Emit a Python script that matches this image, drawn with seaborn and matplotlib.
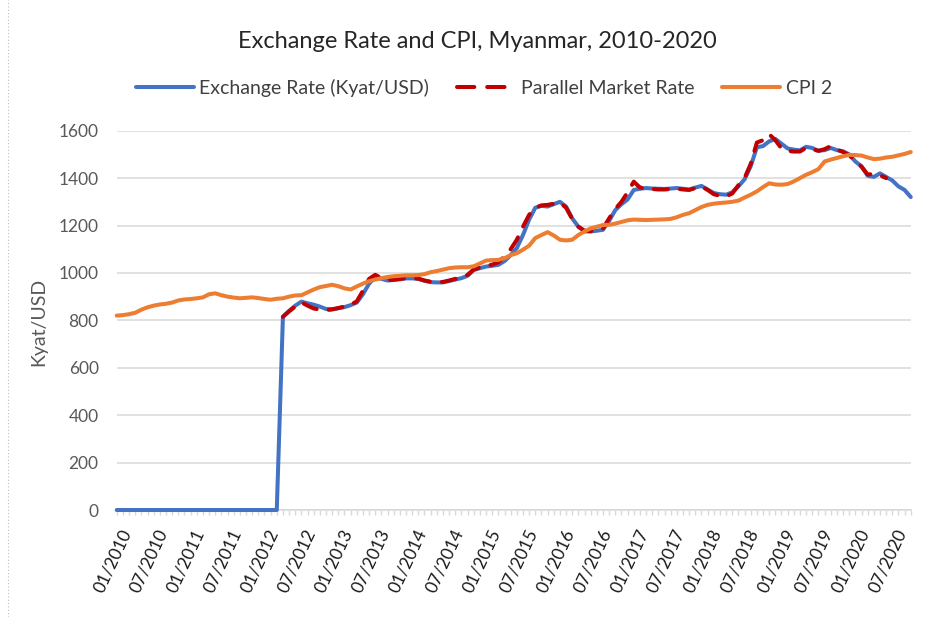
import matplotlib
matplotlib.use("Agg")
import matplotlib.pyplot as plt
import matplotlib.transforms as mtransforms
import numpy as np
import pandas as pd
import seaborn as sns
from matplotlib.lines import Line2D


MONTHS = pd.date_range("2010-01-01", "2020-10-01", freq="MS")

# official exchange rate (Kyat/USD), shown as 0 before the April 2012 unification
EXCHANGE_RATE = [
    0, 0, 0, 0, 0, 0, 0, 0, 0, 0, 0, 0,
    0, 0, 0, 0, 0, 0, 0, 0, 0, 0, 0, 0,
    0, 0, 0, 815, 840, 862, 879, 872, 866, 858, 848, 847,
    851, 856, 864, 875, 910, 955, 982, 975, 968, 970, 973, 977,
    977, 975, 967, 961, 960, 960, 966, 972, 978, 988, 1012, 1020,
    1027, 1030, 1034, 1050, 1075, 1105, 1160, 1225, 1275, 1283, 1280, 1290,
    1300, 1280, 1230, 1195, 1175, 1175, 1178, 1182, 1220, 1265, 1290, 1310,
    1350, 1355, 1358, 1356, 1355, 1354, 1356, 1358, 1355, 1352, 1360, 1367,
    1352, 1337, 1332, 1330, 1340, 1365, 1395, 1450, 1530, 1535, 1555, 1565,
    1545, 1525, 1520, 1517, 1532, 1527, 1515, 1518, 1527, 1518, 1513, 1500,
    1470, 1450, 1410, 1405, 1420, 1405, 1390, 1365, 1350, 1320,
]

# parallel market rate, available 04/2012 - 06/2020
PARALLEL_START = 27
PARALLEL_RATE = [
    815, 838, 858, 876, 862, 850, 845, 843, 846,
    852, 858, 866, 880, 925, 975, 992, 978, 970, 972, 975, 978,
    978, 976, 968, 963, 962, 962, 968, 975, 980, 992, 1015, 1023,
    1030, 1035, 1045, 1070, 1100, 1140, 1195, 1245, 1275, 1285, 1287, 1292,
    1297, 1275, 1228, 1195, 1178, 1176, 1180, 1188, 1230, 1270, 1300, 1340,
    1385, 1360, 1356, 1354, 1352, 1352, 1354, 1355, 1352, 1350, 1358, 1365,
    1350, 1332, 1325, 1323, 1335, 1370, 1400, 1460, 1550, 1560, 1585, 1560,
    1525, 1515, 1512, 1512, 1528, 1522, 1515, 1522, 1535, 1520, 1510, 1497,
    1472, 1448, 1415, 1418, 1412, 1400,
]

CPI = [
    820, 822, 826, 832, 845, 855, 862, 867, 870, 875, 884, 888,
    890, 893, 897, 910, 914, 906, 900, 896, 893, 895, 897, 894,
    890, 887, 891, 893, 900, 905, 906, 918, 930, 940, 945, 950,
    944, 935, 930, 943, 955, 965, 972, 978, 983, 986, 988, 990,
    990, 991, 995, 1003, 1008, 1014, 1020, 1023, 1024, 1024, 1028, 1040,
    1052, 1054, 1055, 1062, 1075, 1083, 1098, 1115, 1147, 1160, 1172, 1158,
    1140, 1137, 1140, 1160, 1175, 1188, 1195, 1202, 1203, 1208, 1215, 1222,
    1225, 1224, 1223, 1224, 1225, 1226, 1228, 1235, 1245, 1252, 1265, 1278,
    1287, 1292, 1295, 1297, 1300, 1305, 1318, 1330, 1344, 1362, 1378, 1373,
    1372, 1375, 1386, 1400, 1414, 1425, 1438, 1470, 1478, 1485, 1492, 1498,
    1497, 1495, 1487, 1480, 1482, 1487, 1490, 1496, 1502, 1510,
]

LABEL_EX = "Exchange Rate (Kyat/USD)"
LABEL_PAR = "Parallel Market Rate"
LABEL_CPI = "CPI 2"

COLOR_EX = "#4472C4"
COLOR_PAR = "#C00000"
COLOR_CPI = "#ED7D31"
GRID = "#D9D9D9"

sns.set_style("white")
plt.rcParams["font.family"] = ["Lato", "DejaVu Sans"]

n = len(MONTHS)
parallel = np.full(n, np.nan)
parallel[PARALLEL_START:PARALLEL_START + len(PARALLEL_RATE)] = PARALLEL_RATE

df = pd.DataFrame({
    "idx": np.arange(n),
    "ex": EXCHANGE_RATE,
    "par": parallel,
    "cpi": CPI,
})

fig = plt.figure(figsize=(9.25, 6.17), dpi=100)
ax = fig.add_axes([0.1262, 0.1734, 0.8584, 0.6148])

lw = 2.9
sns.lineplot(data=df, x="idx", y="ex", color=COLOR_EX, linewidth=lw, ax=ax,
             clip_on=False, solid_capstyle="round", zorder=3)
sns.lineplot(data=df, x="idx", y="par", color=COLOR_PAR, linewidth=lw, ax=ax,
             clip_on=False, dashes=False, zorder=4)
ax.lines[-1].set_dashes((3.5, 3))
ax.lines[-1].set_dash_capstyle("round")
sns.lineplot(data=df, x="idx", y="cpi", color=COLOR_CPI, linewidth=lw, ax=ax,
             clip_on=False, solid_capstyle="round", zorder=5)

ax.set_xlim(0, n - 1)
ax.set_ylim(0, 1600)
ax.set_yticks(np.arange(0, 1601, 200))
ax.yaxis.grid(True, color=GRID, linewidth=1.1)
ax.set_axisbelow(True)
for s in ["top", "right", "left"]:
    ax.spines[s].set_visible(False)
ax.spines["bottom"].set_color(GRID)
ax.spines["bottom"].set_linewidth(1.1)

major = np.arange(0, n, 6)
ax.set_xticks(major)
ax.set_xticks(np.arange(n), minor=True)
ax.set_xticklabels([MONTHS[i].strftime("%m/%Y") for i in major])
ax.tick_params(axis="x", which="both", direction="out", length=3.6, width=1.0,
               color=GRID, bottom=True)
ax.tick_params(axis="x", which="major", pad=11, labelsize=12.5, labelcolor="#1a1a1a")
ax.tick_params(axis="y", length=0, pad=13, labelsize=12.5, labelcolor="#595959")
ax.set_xlabel("")
ax.set_ylabel("")

offset = mtransforms.ScaledTranslation(0.10, 0, fig.dpi_scale_trans)
for lab in ax.get_xticklabels():
    lab.set_rotation(65)
    lab.set_ha("right")
    lab.set_va("center")
    lab.set_rotation_mode("anchor")
    lab.set_transform(lab.get_transform() + offset)

fig.text(38.5 / 925, 1 - 322 / 617, "Kyat/USD", rotation=90, ha="center", va="center",
         fontsize=14, color="#595959")
fig.text(477 / 925, 1 - 42 / 617, "Exchange Rate and CPI, Myanmar, 2010-2020",
         ha="center", va="center", fontsize=17, color="#262626")

handles = [
    Line2D([0], [0], color=COLOR_EX, lw=lw, solid_capstyle="round", label=LABEL_EX),
    Line2D([0], [0], color=COLOR_PAR, lw=lw, dashes=(4.3, 3.2), dash_capstyle="round",
           label=LABEL_PAR),
    Line2D([0], [0], color=COLOR_CPI, lw=lw, solid_capstyle="round", label=LABEL_CPI),
]
fig.legend(handles=handles, loc="center", bbox_to_anchor=(484 / 925, 1 - 88 / 617),
           ncol=3, frameon=False, fontsize=14, handlelength=2.95, handletextpad=0.3,
           columnspacing=1.45, labelcolor="#404040")

fig.add_artist(Line2D([8 / 925, 8 / 925], [0, 1], transform=fig.transFigure,
                      color="#BFBFBF", lw=0.8, linestyle=(0, (1, 2))))

fig.savefig("out.png", dpi=100)
